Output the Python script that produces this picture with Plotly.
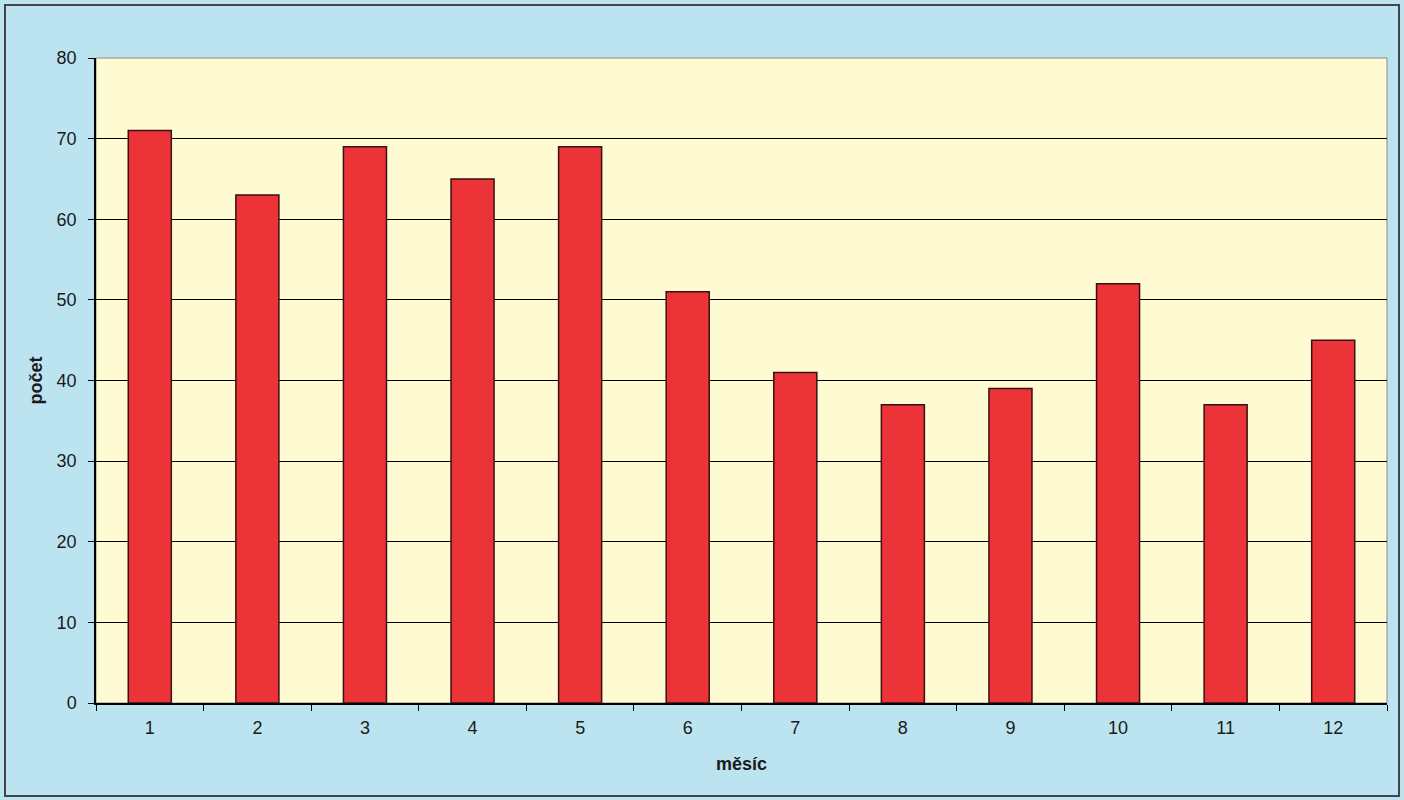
import plotly.graph_objects as go

mesice = ["1", "2", "3", "4", "5", "6", "7", "8", "9", "10", "11", "12"]
pocty = [71, 63, 69, 65, 69, 51, 41, 37, 39, 52, 37, 45]

W, H = 1404, 800
L, R, T, B = 96, 17, 58, 97
pw, ph = W - L - R, H - T - B

fig = go.Figure()
fig.add_trace(go.Bar(
    x=mesice, y=pocty,
    marker=dict(color="#ec3338", line=dict(color="#3a1010", width=1.5)),
    width=0.4,
))

fig.update_layout(
    width=W, height=H,
    margin=dict(l=L, r=R, t=T, b=B),
    paper_bgcolor="#bce4f0",
    plot_bgcolor="#fefad2",
    font=dict(family="Liberation Sans, Arial, sans-serif", size=18, color="#1a1a1a"),
    showlegend=False,
    bargap=0.6,
)
fig.update_xaxes(
    type="category",
    showline=True, linecolor="#000000", linewidth=1.5,
    ticks="outside", tickson="boundaries", ticklen=6, tickcolor="#000000",
    ticklabelstandoff=8,
    showgrid=False,
    title=dict(text="<b>měsíc</b>", font=dict(size=18), standoff=20),
)
fig.update_yaxes(
    range=[0, 80], dtick=10,
    showline=True, linecolor="#000000", linewidth=1.5,
    ticks="outside", ticklen=6, tickcolor="#000000",
    ticklabelstandoff=8,
    showgrid=True, gridcolor="#000000", gridwidth=1,
    zeroline=False,
    title=dict(text="<b>počet</b>", font=dict(size=18), standoff=9),
)

# plot border (grey) and outer frame
fig.add_shape(type="rect", xref="paper", yref="paper", x0=0, x1=1, y0=0, y1=1,
              line=dict(color="#8a8a8a", width=1), layer="below")
fig.add_shape(type="rect", xref="paper", yref="paper",
              x0=-(L - 5) / pw, x1=1 + (R - 5) / pw,
              y0=-(B - 4) / ph, y1=1 + (T - 5) / ph,
              line=dict(color="#444444", width=2))

fig.write_html("out.html", config={"displayModeBar": False},
               post_script="document.body.style.margin='0';")
